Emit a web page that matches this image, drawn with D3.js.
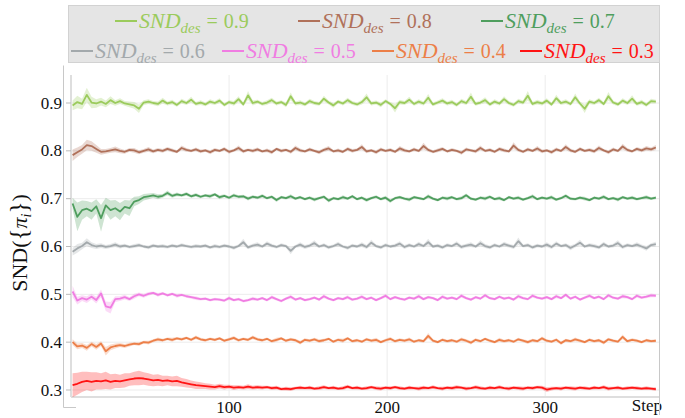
<!DOCTYPE html>
<html>
<head>
<meta charset="utf-8">
<script src="https://cdn.jsdelivr.net/npm/d3@7"></script>
<style>
  body { margin: 0; background: #fff; }
  svg { display: block; }
  text { font-family: "Liberation Serif", "Times New Roman", serif; }
</style>
</head>
<body>
<svg id="chart" width="685" height="418"></svg>
<script>
// target SND levels, in legend order
const desLevels = ['0.9', '0.8', '0.7', '0.6', '0.5', '0.4', '0.3'];
const lineColours = ['#9bcb5c', '#b0715a', '#4f9e5e', '#a3a9ac', '#f07de2', '#ec7f48', '#ff1414'];

const yTicks = [0.3, 0.4, 0.5, 0.6, 0.7, 0.8, 0.9];
const xTicks = [100, 200, 300];

// one point read every 3 steps (steps 1 .. 370)
const snd09 = [
  0.895,0.902,0.898,0.917,0.901,0.899,0.903,0.898,0.906,0.900,
  0.904,0.899,0.897,0.895,0.888,0.901,0.903,0.900,0.898,0.905,
  0.899,0.902,0.896,0.904,0.900,0.907,0.898,0.901,0.897,0.903,
  0.900,0.905,0.896,0.902,0.899,0.908,0.897,0.916,0.900,0.903,
  0.898,0.901,0.906,0.899,0.902,0.896,0.914,0.899,0.901,0.897,
  0.904,0.900,0.898,0.909,0.901,0.895,0.903,0.899,0.906,0.900,
  0.897,0.902,0.912,0.899,0.901,0.896,0.904,0.898,0.889,0.902,
  0.900,0.907,0.898,0.903,0.899,0.911,0.897,0.901,0.905,0.899,
  0.902,0.896,0.904,0.900,0.913,0.898,0.901,0.906,0.897,0.903,
  0.899,0.908,0.900,0.896,0.904,0.901,0.915,0.898,0.902,0.899,
  0.905,0.897,0.910,0.900,0.903,0.898,0.912,0.899,0.888,0.903,
  0.900,0.906,0.898,0.914,0.901,0.897,0.905,0.900,0.909,0.898,
  0.902,0.896,0.904,0.903];
const band09 = [
  .010,.013,.011,.015,.012,.009,.008,.007,.008,.006,
  .006,.005,.006,.007,.009,.005,.005,.004,.005,.006,
  .004,.005,.004,.005,.004,.006,.004,.005,.004,.005,
  .004,.005,.004,.004,.005,.006,.004,.009,.005,.004,
  .004,.005,.005,.004,.004,.005,.008,.004,.005,.004,
  .005,.004,.004,.006,.004,.005,.004,.004,.005,.004,
  .004,.005,.008,.004,.004,.005,.004,.004,.009,.005,
  .004,.006,.004,.005,.004,.008,.004,.004,.005,.004,
  .005,.004,.005,.004,.009,.004,.004,.006,.004,.005,
  .004,.006,.004,.004,.005,.004,.010,.004,.005,.004,
  .005,.004,.007,.004,.005,.004,.008,.004,.009,.005,
  .004,.005,.004,.009,.004,.004,.005,.004,.007,.004,
  .005,.004,.005,.004];

const snd08 = [
  0.791,0.797,0.803,0.812,0.810,0.804,0.798,0.799,0.801,0.803,
  0.800,0.798,0.802,0.801,0.797,0.800,0.803,0.799,0.802,0.800,
  0.804,0.801,0.798,0.806,0.802,0.800,0.803,0.799,0.801,0.797,
  0.802,0.800,0.804,0.798,0.801,0.806,0.799,0.802,0.800,0.803,
  0.799,0.801,0.797,0.804,0.800,0.802,0.798,0.806,0.801,0.799,
  0.803,0.800,0.797,0.802,0.805,0.799,0.801,0.798,0.804,0.800,
  0.802,0.808,0.799,0.801,0.797,0.803,0.800,0.802,0.798,0.805,
  0.801,0.799,0.803,0.800,0.810,0.802,0.798,0.801,0.804,0.799,
  0.802,0.800,0.796,0.803,0.801,0.799,0.806,0.800,0.802,0.798,
  0.804,0.801,0.799,0.811,0.802,0.798,0.803,0.800,0.805,0.799,
  0.801,0.797,0.803,0.800,0.808,0.801,0.798,0.804,0.800,0.802,
  0.799,0.806,0.801,0.797,0.803,0.800,0.809,0.802,0.799,0.804,
  0.801,0.805,0.803,0.807];
const band08 = [
  .012,.010,.009,.011,.010,.008,.006,.005,.005,.006,
  .005,.004,.004,.005,.004,.004,.005,.004,.004,.004,
  .004,.004,.003,.005,.004,.003,.004,.004,.003,.004,
  .004,.003,.004,.004,.003,.005,.004,.003,.004,.004,
  .003,.004,.004,.003,.004,.003,.004,.005,.004,.003,
  .004,.003,.004,.004,.005,.003,.004,.003,.004,.004,
  .003,.006,.004,.003,.004,.004,.003,.004,.003,.005,
  .004,.003,.004,.003,.007,.004,.003,.004,.004,.003,
  .004,.003,.004,.004,.003,.004,.005,.003,.004,.003,
  .004,.004,.003,.007,.004,.003,.004,.003,.005,.004,
  .003,.004,.004,.003,.006,.004,.003,.004,.003,.004,
  .004,.005,.003,.004,.004,.003,.006,.004,.003,.004,
  .004,.005,.004,.005];

const snd07 = [
  0.690,0.662,0.676,0.679,0.674,0.684,0.659,0.686,0.676,0.680,
  0.673,0.683,0.680,0.694,0.697,0.703,0.705,0.707,0.704,0.706,
  0.712,0.706,0.709,0.707,0.710,0.705,0.708,0.704,0.707,0.705,
  0.709,0.703,0.706,0.702,0.707,0.704,0.705,0.700,0.704,0.702,
  0.706,0.701,0.704,0.697,0.703,0.701,0.705,0.700,0.703,0.699,
  0.702,0.698,0.701,0.704,0.696,0.701,0.699,0.703,0.700,0.705,
  0.699,0.702,0.697,0.701,0.704,0.699,0.702,0.695,0.701,0.703,
  0.700,0.698,0.703,0.701,0.699,0.705,0.700,0.697,0.702,0.700,
  0.703,0.699,0.701,0.707,0.700,0.698,0.702,0.700,0.704,0.699,
  0.701,0.697,0.703,0.700,0.702,0.698,0.701,0.705,0.699,0.702,
  0.700,0.703,0.698,0.701,0.706,0.700,0.699,0.702,0.700,0.697,
  0.702,0.700,0.704,0.699,0.701,0.698,0.703,0.700,0.702,0.699,
  0.701,0.703,0.700,0.702];
const band07 = [
  .012,.030,.020,.016,.018,.015,.028,.016,.020,.017,
  .018,.014,.016,.010,.008,.007,.006,.005,.005,.004,
  .005,.004,.004,.003,.004,.003,.004,.003,.003,.004,
  .003,.004,.003,.003,.004,.003,.003,.004,.003,.003,
  .004,.003,.003,.004,.003,.003,.004,.003,.003,.003,
  .003,.004,.003,.003,.004,.003,.003,.004,.003,.003,
  .003,.003,.004,.003,.003,.003,.004,.004,.003,.003,
  .003,.004,.003,.003,.003,.004,.003,.003,.003,.004,
  .003,.003,.004,.004,.003,.003,.003,.004,.003,.003,
  .004,.003,.003,.003,.004,.003,.003,.004,.003,.003,
  .003,.004,.003,.003,.004,.003,.003,.003,.004,.003,
  .003,.003,.004,.003,.003,.004,.003,.003,.004,.003,
  .003,.004,.003,.003];

const snd06 = [
  0.589,0.596,0.601,0.609,0.603,0.600,0.602,0.599,0.601,0.604,
  0.600,0.602,0.599,0.601,0.603,0.600,0.598,0.602,0.600,0.601,
  0.599,0.602,0.600,0.603,0.601,0.599,0.601,0.600,0.602,0.598,
  0.601,0.599,0.602,0.600,0.597,0.601,0.609,0.598,0.602,0.604,
  0.600,0.606,0.602,0.599,0.603,0.601,0.591,0.600,0.604,0.599,
  0.602,0.607,0.600,0.603,0.598,0.601,0.605,0.600,0.597,0.602,
  0.600,0.604,0.599,0.608,0.601,0.598,0.603,0.600,0.602,0.606,
  0.599,0.603,0.600,0.605,0.601,0.609,0.600,0.602,0.598,0.603,
  0.601,0.606,0.599,0.602,0.604,0.600,0.607,0.601,0.598,0.603,
  0.600,0.605,0.602,0.599,0.611,0.601,0.603,0.598,0.602,0.600,
  0.604,0.599,0.606,0.601,0.603,0.597,0.602,0.608,0.600,0.603,
  0.601,0.598,0.605,0.600,0.602,0.607,0.599,0.603,0.601,0.604,
  0.600,0.596,0.603,0.605];
const band06 = [
  .008,.009,.007,.008,.006,.005,.005,.004,.004,.005,
  .004,.004,.003,.004,.004,.003,.004,.004,.003,.004,
  .003,.004,.003,.004,.003,.003,.004,.003,.004,.003,
  .004,.003,.004,.003,.004,.003,.007,.004,.004,.005,
  .003,.005,.004,.003,.004,.003,.007,.003,.005,.004,
  .004,.006,.003,.004,.004,.003,.005,.003,.004,.004,
  .003,.005,.004,.006,.003,.004,.004,.003,.004,.005,
  .004,.004,.003,.005,.003,.007,.003,.004,.004,.004,
  .003,.005,.004,.004,.005,.003,.006,.004,.004,.004,
  .003,.005,.004,.004,.008,.003,.004,.004,.004,.003,
  .005,.004,.005,.003,.004,.005,.004,.006,.003,.004,
  .004,.004,.005,.003,.004,.006,.004,.004,.003,.005,
  .004,.005,.004,.005];

const snd05 = [
  0.506,0.487,0.492,0.489,0.495,0.488,0.502,0.475,0.472,0.490,
  0.491,0.494,0.490,0.496,0.500,0.497,0.501,0.503,0.499,0.502,
  0.498,0.501,0.497,0.499,0.496,0.494,0.492,0.490,0.491,0.488,
  0.490,0.489,0.487,0.492,0.488,0.490,0.486,0.488,0.491,0.489,
  0.492,0.488,0.494,0.490,0.486,0.491,0.495,0.489,0.492,0.488,
  0.490,0.493,0.489,0.496,0.491,0.488,0.492,0.490,0.494,0.489,
  0.491,0.495,0.490,0.493,0.488,0.492,0.497,0.490,0.494,0.491,
  0.489,0.493,0.491,0.496,0.490,0.494,0.492,0.488,0.495,0.491,
  0.493,0.490,0.497,0.492,0.489,0.494,0.491,0.498,0.492,0.490,
  0.495,0.491,0.493,0.489,0.496,0.492,0.490,0.497,0.493,0.491,
  0.494,0.490,0.496,0.492,0.499,0.491,0.495,0.489,0.493,0.497,
  0.492,0.495,0.490,0.498,0.493,0.491,0.496,0.494,0.490,0.497,
  0.493,0.495,0.498,0.497];
const band05 = [
  .012,.008,.006,.007,.006,.007,.008,.010,.012,.006,
  .005,.005,.004,.005,.004,.004,.004,.003,.004,.003,
  .003,.003,.004,.003,.003,.003,.004,.003,.003,.003,
  .003,.003,.003,.004,.003,.003,.003,.003,.004,.003,
  .003,.003,.004,.003,.003,.003,.004,.003,.003,.003,
  .003,.003,.003,.004,.003,.003,.003,.003,.004,.003,
  .003,.004,.003,.003,.003,.003,.004,.003,.003,.003,
  .003,.003,.003,.004,.003,.003,.003,.003,.004,.003,
  .003,.003,.004,.003,.003,.003,.003,.004,.003,.003,
  .003,.003,.003,.003,.004,.003,.003,.004,.003,.003,
  .003,.003,.004,.003,.004,.003,.003,.003,.003,.004,
  .003,.003,.003,.004,.003,.003,.004,.003,.003,.004,
  .003,.003,.004,.003];

const snd04 = [
  0.400,0.391,0.393,0.388,0.396,0.390,0.397,0.381,0.389,0.392,
  0.394,0.392,0.395,0.397,0.396,0.400,0.399,0.403,0.406,0.404,
  0.407,0.405,0.408,0.406,0.409,0.405,0.410,0.406,0.404,0.407,
  0.405,0.408,0.403,0.406,0.409,0.404,0.407,0.405,0.410,0.406,
  0.404,0.407,0.402,0.405,0.408,0.403,0.406,0.404,0.399,0.405,
  0.403,0.406,0.402,0.404,0.407,0.401,0.405,0.403,0.408,0.402,
  0.404,0.401,0.406,0.403,0.405,0.400,0.404,0.407,0.402,0.405,
  0.403,0.406,0.401,0.404,0.402,0.413,0.403,0.400,0.405,0.402,
  0.404,0.401,0.406,0.403,0.399,0.405,0.402,0.407,0.403,0.400,
  0.405,0.402,0.404,0.401,0.406,0.403,0.400,0.404,0.402,0.408,
  0.403,0.401,0.405,0.398,0.404,0.402,0.406,0.403,0.400,0.405,
  0.402,0.404,0.399,0.406,0.403,0.401,0.411,0.402,0.405,0.403,
  0.400,0.404,0.402,0.403];
const band04 = [
  .006,.006,.005,.006,.005,.006,.005,.009,.006,.005,
  .004,.004,.004,.003,.004,.003,.004,.003,.004,.003,
  .003,.004,.003,.003,.003,.003,.004,.003,.003,.003,
  .003,.003,.003,.003,.004,.003,.003,.003,.004,.003,
  .003,.003,.003,.004,.003,.003,.003,.003,.004,.003,
  .003,.003,.004,.003,.003,.003,.003,.004,.003,.003,
  .003,.003,.003,.003,.004,.003,.003,.004,.003,.003,
  .003,.004,.003,.003,.003,.006,.003,.003,.003,.003,
  .003,.003,.004,.003,.004,.003,.003,.003,.003,.003,
  .004,.003,.003,.003,.003,.003,.004,.003,.003,.004,
  .003,.003,.003,.004,.003,.003,.004,.003,.003,.003,
  .003,.003,.004,.003,.003,.003,.005,.003,.003,.003,
  .003,.003,.003,.003];

const snd03 = [
  0.310,0.313,0.317,0.319,0.317,0.319,0.318,0.320,0.317,0.319,
  0.318,0.320,0.322,0.324,0.325,0.324,0.322,0.320,0.321,0.319,
  0.320,0.318,0.319,0.316,0.314,0.312,0.310,0.309,0.308,0.307,
  0.306,0.308,0.306,0.307,0.305,0.306,0.305,0.307,0.305,0.306,
  0.305,0.306,0.304,0.305,0.302,0.303,0.302,0.304,0.305,0.304,
  0.305,0.303,0.304,0.306,0.304,0.305,0.303,0.304,0.307,0.304,
  0.305,0.303,0.304,0.306,0.304,0.303,0.305,0.304,0.306,0.304,
  0.303,0.305,0.304,0.303,0.305,0.304,0.306,0.304,0.303,0.305,
  0.304,0.306,0.305,0.303,0.304,0.306,0.304,0.303,0.305,0.304,
  0.306,0.304,0.303,0.305,0.304,0.303,0.305,0.304,0.306,0.305,
  0.301,0.303,0.304,0.303,0.305,0.304,0.303,0.305,0.304,0.303,
  0.305,0.304,0.306,0.303,0.304,0.305,0.303,0.304,0.305,0.304,
  0.303,0.304,0.303,0.302];
const band03 = [
  .025,.023,.021,.019,.020,.018,.017,.018,.016,.015,
  .014,.015,.013,.014,.015,.013,.013,.012,.012,.011,
  .010,.010,.011,.009,.009,.008,.008,.007,.006,.006,
  .005,.005,.005,.004,.005,.004,.004,.005,.004,.004,
  .004,.003,.004,.004,.003,.004,.004,.003,.004,.003,
  .004,.003,.004,.004,.003,.004,.003,.004,.004,.003,
  .004,.003,.004,.003,.004,.004,.003,.004,.003,.004,
  .003,.004,.003,.004,.004,.003,.004,.003,.004,.003,
  .004,.004,.003,.004,.003,.004,.004,.003,.004,.003,
  .004,.003,.004,.003,.004,.004,.003,.004,.003,.004,
  .005,.004,.003,.004,.003,.004,.004,.003,.004,.003,
  .004,.003,.004,.004,.003,.004,.003,.004,.003,.004,
  .003,.004,.003,.004];

(function () {
  'use strict';

  const steps = d3.range(1, 372, 3);
  const series = [
    { level: desLevels[0], colour: lineColours[0], values: snd09, band: band09 },
    { level: desLevels[1], colour: lineColours[1], values: snd08, band: band08 },
    { level: desLevels[2], colour: lineColours[2], values: snd07, band: band07 },
    { level: desLevels[3], colour: lineColours[3], values: snd06, band: band06 },
    { level: desLevels[4], colour: lineColours[4], values: snd05, band: band05 },
    { level: desLevels[5], colour: lineColours[5], values: snd04, band: band04 },
    { level: desLevels[6], colour: lineColours[6], values: snd03, band: band03 }
  ];

  const svg = d3.select('#chart');

  const plot = { left: 71, right: 659, top: 75, bottom: 397 };

  const x = d3.scaleLinear().domain([0, 372]).range([plot.left, plot.right]);
  const y = d3.scaleLinear().domain([0.3, 0.9]).range([390, 103]);

  // grid
  svg.append('g').selectAll('line.hgrid')
    .data(yTicks).enter().append('line')
    .attr('x1', plot.left).attr('x2', plot.right)
    .attr('y1', d => y(d)).attr('y2', d => y(d))
    .style('stroke', '#ececec').style('stroke-width', 1);

  svg.append('g').selectAll('line.vgrid')
    .data(xTicks).enter().append('line')
    .attr('x1', d => x(d)).attr('x2', d => x(d))
    .attr('y1', plot.top).attr('y2', plot.bottom)
    .style('stroke', '#ececec').style('stroke-width', 1);

  // light spines
  svg.append('line')
    .attr('x1', plot.left).attr('x2', plot.left)
    .attr('y1', plot.top).attr('y2', plot.bottom)
    .style('stroke', '#dedede').style('stroke-width', 2);
  svg.append('line')
    .attr('x1', plot.left).attr('x2', plot.right)
    .attr('y1', plot.bottom).attr('y2', plot.bottom)
    .style('stroke', '#dedede').style('stroke-width', 2);

  // y ticks and labels
  svg.append('g').selectAll('line.ytick')
    .data(yTicks).enter().append('line')
    .attr('x1', plot.left - 5).attr('x2', plot.left)
    .attr('y1', d => y(d)).attr('y2', d => y(d))
    .style('stroke', '#bbbbbb').style('stroke-width', 1);

  svg.append('g').selectAll('text.ylab')
    .data(yTicks).enter().append('text')
    .attr('x', 62)
    .attr('y', d => y(d) + 5.5)
    .style('text-anchor', 'end')
    .style('font-size', '17px')
    .style('fill', '#111')
    .text(d => d3.format('.1f')(d));

  svg.append('g').selectAll('text.xlab')
    .data(xTicks).enter().append('text')
    .attr('x', d => x(d))
    .attr('y', 413)
    .style('text-anchor', 'middle')
    .style('font-size', '17px')
    .style('fill', '#111')
    .text(d => d);

  svg.append('text')
    .attr('x', 662).attr('y', 411)
    .style('text-anchor', 'end')
    .style('font-size', '17px')
    .style('fill', '#111')
    .text('Step');

  // y axis title
  const yTitle = svg.append('text')
    .attr('transform', 'translate(27,243) rotate(-90)')
    .style('text-anchor', 'middle')
    .style('font-size', '22px')
    .style('fill', '#111');
  yTitle.append('tspan').text('SND(');
  yTitle.append('tspan').style('font-size', '25px').text('{');
  yTitle.append('tspan').style('font-style', 'italic').text('π');
  yTitle.append('tspan').style('font-style', 'italic').style('font-size', '14px').attr('dy', 4).text('i');
  yTitle.append('tspan').attr('dy', -4).style('font-size', '25px').text('}');
  yTitle.append('tspan').text(')');

  // bands and lines
  const area = d3.area()
    .x((d, i) => x(steps[i]));
  const line = d3.line()
    .x((d, i) => x(steps[i]))
    .y(d => y(d));

  series.forEach(s => {
    area.y0((d, i) => y(d - s.band[i])).y1((d, i) => y(d + s.band[i]));
    svg.append('path')
      .datum(s.values)
      .attr('d', area)
      .style('fill', s.colour)
      .style('opacity', 0.28);
  });
  series.forEach(s => {
    svg.append('path')
      .datum(s.values)
      .attr('d', line)
      .style('fill', 'none')
      .style('stroke', s.colour)
      .style('stroke-width', 1.8)
      .style('stroke-linejoin', 'round');
  });

  // thin outer frame
  svg.append('path')
    .attr('d', 'M63.5,65.5V407.5H76')
    .style('fill', 'none').style('stroke', '#c8c8c8').style('stroke-width', 1);
  svg.append('path')
    .attr('d', 'M659.5,62V415')
    .style('fill', 'none').style('stroke', '#c8c8c8').style('stroke-width', 1);

  // legend
  svg.append('rect')
    .attr('x', 68.5).attr('y', 5.5)
    .attr('width', 591).attr('height', 57)
    .style('fill', '#e5e5e5')
    .style('stroke', '#d2d2d2');

  const legendPos = [
    [115, 28], [298, 28], [481, 28],
    [71, 58], [222, 58], [372, 58], [520, 58]
  ];

  const leg = svg.append('g').selectAll('g.item')
    .data(series).enter().append('g')
    .attr('transform', (d, i) => `translate(${legendPos[i][0]},${legendPos[i][1]})`)
    .style('fill', d => d.colour);

  leg.append('line')
    .attr('x1', 0).attr('x2', 22)
    .attr('y1', -7).attr('y2', -7)
    .style('stroke', d => d.colour).style('stroke-width', 2);

  leg.each(function (d) {
    const g = d3.select(this);
    let cx = 24;
    const t1 = g.append('text').attr('x', cx).attr('y', 0)
      .style('font-size', '22px').style('font-style', 'italic').text('SND');
    cx += t1.node().getComputedTextLength();
    const t2 = g.append('text').attr('x', cx).attr('y', 5)
      .style('font-size', '15px').style('font-style', 'italic').text('des');
    cx += t2.node().getComputedTextLength() + 6;
    const t3 = g.append('text').attr('x', cx).attr('y', 0)
      .style('font-size', '20px').text('=');
    cx += t3.node().getComputedTextLength() + 6;
    g.append('text').attr('x', cx).attr('y', 0)
      .style('font-size', '20px').text(d.level);
  });
}());
</script>
</body>
</html>
